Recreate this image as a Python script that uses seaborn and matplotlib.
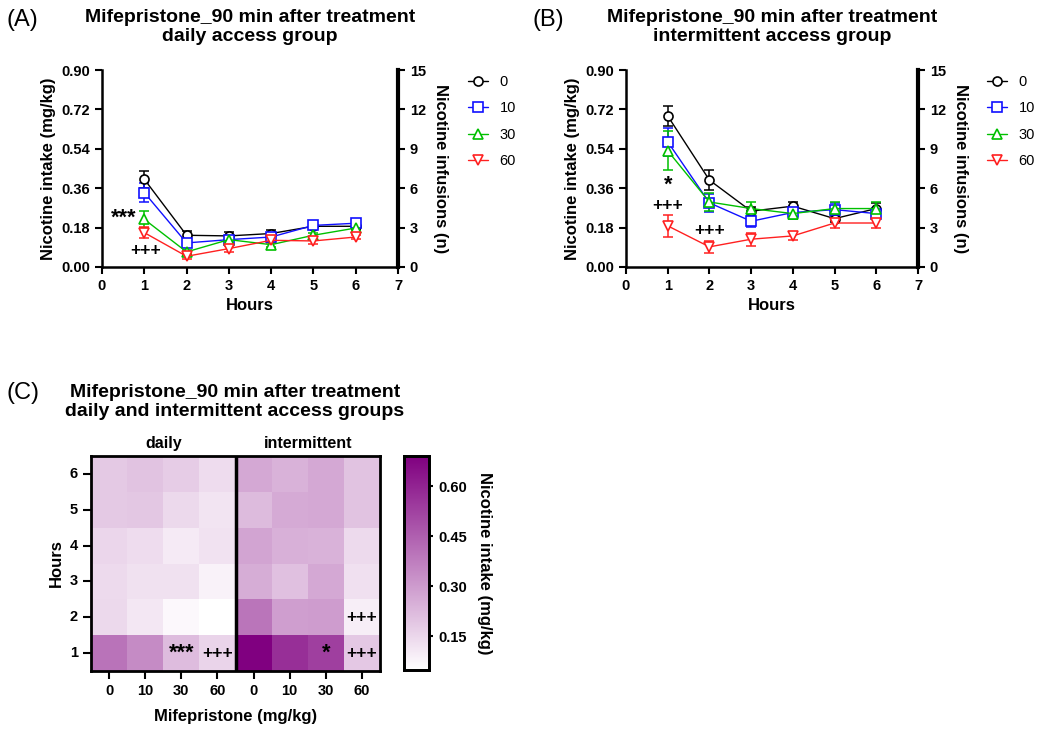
import numpy as np
import pandas as pd
import matplotlib
matplotlib.use("Agg")
import matplotlib.pyplot as plt
from matplotlib.colors import LinearSegmentedColormap
import seaborn as sns

sns.set_style("ticks")
plt.rcParams['font.family'] = ['Liberation Sans', 'DejaVu Sans']
plt.rcParams['font.weight'] = 'bold'
plt.rcParams['axes.edgecolor'] = 'black'
plt.rcParams['xtick.color'] = 'black'
plt.rcParams['ytick.color'] = 'black'
plt.rcParams['text.color'] = 'black'
plt.rcParams['axes.labelcolor'] = 'black'

# data
hours = [1, 2, 3, 4, 5, 6]
doses = ["0", "10", "30", "60"]

daily_mean = {
    "0":  [0.401, 0.145, 0.142, 0.153, 0.186, 0.186],
    "10": [0.340, 0.110, 0.125, 0.137, 0.190, 0.200],
    "30": [0.218, 0.069, 0.125, 0.102, 0.145, 0.178],
    "60": [0.157, 0.049, 0.084, 0.122, 0.119, 0.137],
}
daily_sem = {
    "0":  [0.038, 0.018, 0.017, 0.018, 0.012, 0.012],
    "10": [0.043, 0.012, 0.012, 0.012, 0.010, 0.012],
    "30": [0.040, 0.010, 0.012, 0.010, 0.012, 0.012],
    "60": [0.025, 0.012, 0.014, 0.012, 0.014, 0.010],
}
inter_mean = {
    "0":  [0.690, 0.397, 0.255, 0.278, 0.221, 0.267],
    "10": [0.572, 0.293, 0.209, 0.249, 0.262, 0.244],
    "30": [0.531, 0.297, 0.267, 0.244, 0.267, 0.267],
    "60": [0.188, 0.092, 0.127, 0.142, 0.201, 0.201],
}
inter_sem = {
    "0":  [0.046, 0.044, 0.020, 0.020, 0.015, 0.025],
    "10": [0.065, 0.040, 0.025, 0.030, 0.030, 0.025],
    "30": [0.090, 0.040, 0.030, 0.025, 0.030, 0.030],
    "60": [0.050, 0.027, 0.030, 0.020, 0.025, 0.025],
}
colors = {"0": "black", "10": "#1010ff", "30": "#00c000", "60": "#ff2020"}
markers = {"0": "o", "10": "s", "30": "^", "60": "v"}

# heatmap annotations (hour, column) -> text
heat_marks_daily = {1: ["", "", "***", "+++"]}
heat_marks_inter = {1: ["", "", "*", "+++"], 2: ["", "", "", "+++"]}

fig = plt.figure(figsize=(10.5, 7.33), dpi=100)
W, H = 1050, 733


def px_axes(l, t, r, b):
    return fig.add_axes([l / W, 1 - b / H, (r - l) / W, (b - t) / H])


def note_size(txt):
    return 15.5 if "*" in txt else 12.5


def line_panel(ax, means, sems, title, letter, letter_x, notes):
    for d in doses:
        ax.errorbar(hours, means[d], yerr=sems[d], fmt='none', ecolor=colors[d],
                    elinewidth=1.1, capsize=3.6, capthick=1.1, zorder=2)
        sns.lineplot(x=hours, y=means[d], ax=ax, color=colors[d], marker=markers[d],
                     markersize=6.5, mfc='white', mec=colors[d], mew=1.2, lw=1.0,
                     label=d, zorder=3)
    ax.set_xlim(0, 7)
    ax.set_ylim(0, 0.9)
    ax.set_xticks(range(8))
    ax.set_yticks(np.arange(0, 0.91, 0.18))
    ax.set_yticklabels([f"{v:.2f}" for v in np.arange(0, 0.91, 0.18)])
    ax.set_xlabel("Hours", fontsize=12, fontweight='bold')
    ax.set_ylabel("Nicotine intake (mg/kg)", fontsize=12, fontweight='bold')
    ax.tick_params(labelsize=10.5, width=1.5, length=5)
    for lab in ax.get_xticklabels() + ax.get_yticklabels():
        lab.set_fontweight('bold')
    for s in ['left', 'bottom']:
        ax.spines[s].set_linewidth(1.8)
    ax.spines['top'].set_visible(False)
    ax2 = ax.twinx()
    ax2.set_ylim(0, 15)
    ax2.set_yticks(range(0, 16, 3))
    ax2.set_ylabel("Nicotine infusions (n)", fontsize=12, fontweight='bold',
                   rotation=270, labelpad=16)
    ax2.tick_params(labelsize=10.5, width=1.5, length=5)
    for lab in ax2.get_yticklabels():
        lab.set_fontweight('bold')
    ax2.spines['right'].set_linewidth(3)
    ax2.spines['top'].set_visible(False)
    ax2.spines['left'].set_visible(False)
    ax2.spines['bottom'].set_visible(False)
    ax.legend(loc='upper left', bbox_to_anchor=(1.235, 0.975), frameon=False,
              borderpad=0, borderaxespad=0, handlelength=1.4, labelspacing=0.85,
              handletextpad=0.8, prop={'weight': 'normal', 'size': 10.5})
    for txt, x, y in notes:
        ax.text(x, y, txt, ha='center', va='center', fontsize=note_size(txt),
                fontweight='bold')
    cx = (ax.get_position().x0 + ax.get_position().x1) / 2
    fig.text(cx, 1 - 27 / H, title, ha='center', va='center', fontsize=14,
             fontweight='bold', linespacing=1.15)
    fig.text(letter_x, 1 - 20 / H, letter, ha='left', va='center', fontsize=17,
             fontweight='normal')


axA = px_axes(102, 70, 398, 267)
line_panel(axA, daily_mean, daily_sem,
           "Mifepristone_90 min after treatment\ndaily access group", "(A)", 6 / W,
           [("***", 0.5, 0.225), ("+++", 1.02, 0.076)])

axB = px_axes(626, 70, 918, 267)
line_panel(axB, inter_mean, inter_sem,
           "Mifepristone_90 min after treatment\nintermittent access group", "(B)", 532 / W,
           [("*", 1.0, 0.375), ("+++", 1.0, 0.279), ("+++", 2.01, 0.165)])

# heatmap panel
cols = [f"d{d}" for d in doses] + [f"i{d}" for d in doses]
mat = np.array([daily_mean[d] for d in doses] + [inter_mean[d] for d in doses]).T
heat = pd.DataFrame(mat[::-1], index=hours[::-1], columns=cols)

ann = np.full(heat.shape, "", dtype=object)
for h, row in heat_marks_daily.items():
    ann[6 - h, 0:4] = row
for h, row in heat_marks_inter.items():
    for j, t in enumerate(row):
        if t:
            ann[6 - h, 4 + j] = t

cmap = LinearSegmentedColormap.from_list("wp", ["white", "#800080"])
axC = px_axes(91, 456, 380, 671)
cax = px_axes(404, 456, 429, 670)
sns.heatmap(heat, ax=axC, cmap=cmap, vmin=mat.min(), vmax=mat.max(), cbar_ax=cax)
for i in range(ann.shape[0]):
    for j in range(ann.shape[1]):
        if ann[i, j]:
            axC.text(j + 0.5, i + 0.5, ann[i, j], ha='center', va='center',
                     fontsize=note_size(ann[i, j]), fontweight='bold', color='black')
axC.set_xticklabels(doses + doses, rotation=0)
axC.set_yticklabels(hours[::-1], rotation=0)
axC.tick_params(labelsize=10.5, width=1.5, length=6)
for lab in axC.get_xticklabels() + axC.get_yticklabels():
    lab.set_fontweight('bold')
axC.set_xlabel("Mifepristone (mg/kg)", fontsize=12, fontweight='bold', labelpad=8)
axC.set_ylabel("Hours", fontsize=12, fontweight='bold')
for s in axC.spines.values():
    s.set_visible(True)
    s.set_linewidth(2)
axC.axvline(4, color='black', lw=2.5)
axC.text(2, -0.15, "daily", ha='center', va='bottom', fontsize=11.5, fontweight='bold')
axC.text(6, -0.15, "intermittent", ha='center', va='bottom', fontsize=11.5, fontweight='bold')

cax.set_yticks([0.15, 0.30, 0.45, 0.60])
cax.set_yticklabels(["0.15", "0.30", "0.45", "0.60"])
cax.tick_params(labelsize=10.5, width=1.5, length=6, direction='inout')
for lab in cax.get_yticklabels():
    lab.set_fontweight('bold')
for s in cax.spines.values():
    s.set_visible(True)
    s.set_linewidth(2)
cax.set_ylabel("Nicotine intake (mg/kg)", fontsize=12, fontweight='bold',
               rotation=270, labelpad=18)

fig.text(235 / W, 1 - 402 / H,
         "Mifepristone_90 min after treatment\ndaily and intermittent access groups",
         ha='center', va='center', fontsize=14, fontweight='bold', linespacing=1.15)
fig.text(6 / W, 1 - 393 / H, "(C)", ha='left', va='center', fontsize=17,
         fontweight='normal')

fig.savefig("out.png", dpi=100)
